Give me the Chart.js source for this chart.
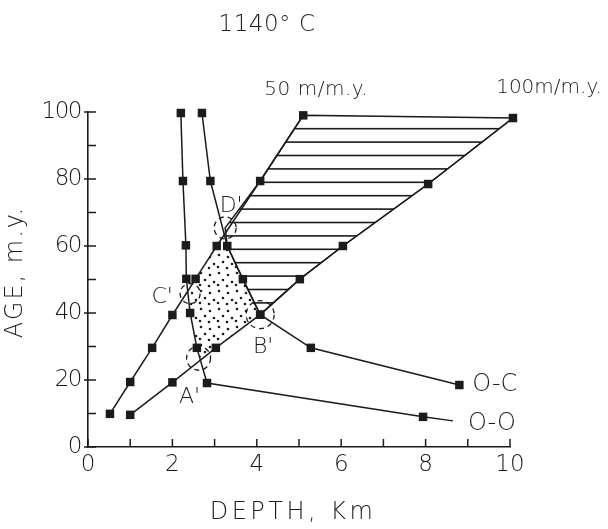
<!DOCTYPE html>
<html><head><meta charset="utf-8">
<script src="https://cdn.jsdelivr.net/npm/chart.js@4.4.1/dist/chart.umd.min.js"></script>
<style>html,body{margin:0;padding:0;background:#fff;}</style>
</head><body>
<canvas id="c" width="608" height="529"></canvas>
<script>
// ---------- data ----------
const depthTickLabels = [0, 2, 4, 6, 8, 10];
const ageTickLabels = [0, 20, 40, 60, 80, 100];

// 50 m/m.y. burial line
const rate50Depth = [0.52, 1.0, 1.52, 2.0, 2.55, 3.05, 4.08, 5.1];
const rate50Age   = [9.9, 19.4, 29.6, 39.4, 50.2, 60.0, 79.4, 99.0];
// 100 m/m.y. burial line
const rate100Depth = [1.0, 2.0, 3.03, 4.08, 5.02, 6.04, 8.06, 10.07];
const rate100Age   = [9.6, 19.3, 29.6, 39.5, 50.1, 60.0, 78.5, 98.2];
// O-O curve (first entry: end of the line, no marker)
const ooDepth = [8.65, 7.94, 2.82, 2.58, 2.42, 2.33, 2.32, 2.25, 2.2];
const ooAge   = [7.8, 9.0, 19.1, 29.6, 40.0, 50.2, 60.2, 79.4, 99.7];
// O-C curve
const ocDepth = [8.8, 5.28, 4.08, 3.67, 3.3, 2.9, 2.7];
const ocAge   = [18.5, 29.6, 39.5, 50.1, 60.0, 79.4, 99.7];
// crossing points (dashed circles)
const crossNames = ["A'", "B'", "C'", "D'"];
const crossDepth = [2.62, 4.08, 2.42, 3.25];
const crossAge   = [26.5, 39.5, 45.8, 65.4];

// ---------- helpers ----------
const pts = (xs, ys) => xs.map((x, i) => ({x, y: ys[i]}));
const P50 = pts(rate50Depth, rate50Age);
const P100 = pts(rate100Depth, rate100Age);
const POO = pts(ooDepth, ooAge);
const POC = pts(ocDepth, ocAge);
const PX = pts(crossDepth, crossAge);

// hatched field: between 50 and 100 m/m.y. lines, right of O-C
const hatchRegion = [P50[7], P100[7], P100[6], P100[5], P100[4], P100[3], POC[3], POC[4], PX[3], P50[6]];
// dotted field
const dotRegion = [PX[0], P100[2], P100[3], POC[3], POC[4], P50[5], P50[4], PX[2], POO[4], POO[3]];

const INK = '#1b1b1b';
const FONT = "'DejaVu Sans', sans-serif";
const W = 200;

function makeHatch(ctx) {
  const c = document.createElement('canvas'); c.width = 8; c.height = 67;
  const g = c.getContext('2d'); g.fillStyle = INK;
  for (let k = 0; k < 5; k++) { const y = 8.1 + k * 13.4; g.fillRect(0, y - 0.8, 8, 1.6); }
  return ctx.createPattern(c, 'repeat');
}
function makeDots(ctx) {
  const c = document.createElement('canvas'); c.width = 18; c.height = 18;
  const g = c.getContext('2d'); g.fillStyle = INK;
  [[3,3],[12,5],[7,10],[16,12],[2,15],[11,16]].forEach(([x,y]) => { g.beginPath(); g.arc(x, y, 1.3, 0, Math.PI*2); g.fill(); });
  return ctx.createPattern(c, 'repeat');
}

const regionsPlugin = {
  id: 'regions',
  beforeDatasetsDraw(chart) {
    const {ctx, scales: {x, y}} = chart;
    const path = (reg) => {
      ctx.beginPath();
      reg.forEach((p, i) => {
        const px = x.getPixelForValue(p.x), py = y.getPixelForValue(p.y);
        i ? ctx.lineTo(px, py) : ctx.moveTo(px, py);
      });
      ctx.closePath();
    };
    ctx.save();
    path(hatchRegion); ctx.fillStyle = makeHatch(ctx); ctx.fill();
    ctx.strokeStyle = INK; ctx.lineWidth = 1.5; ctx.stroke();
    path(dotRegion); ctx.fillStyle = makeDots(ctx); ctx.fill();
    ctx.restore();
  }
};

const ls = (ctx, v) => { if ('letterSpacing' in ctx) ctx.letterSpacing = v; };

const axesPlugin = {
  id: 'axesDeco',
  afterDraw(chart) {
    const {ctx, chartArea: a, scales: {x, y}} = chart;
    ctx.save();
    ctx.strokeStyle = INK; ctx.lineWidth = 1.5; ctx.fillStyle = INK;
    // tick marks (inward)
    x.ticks.forEach(t => {
      const px = x.getPixelForValue(t.value);
      ctx.beginPath(); ctx.moveTo(px, a.bottom); ctx.lineTo(px, a.bottom - 8); ctx.stroke();
    });
    y.ticks.forEach(t => {
      const py = y.getPixelForValue(t.value);
      const major = ageTickLabels.includes(t.value);
      ctx.beginPath(); ctx.moveTo(a.left - (major ? 4 : 0), py); ctx.lineTo(a.left + 8, py); ctx.stroke();
    });
    // tick labels
    ctx.font = `${W} 23px ${FONT}`;
    ctx.textAlign = 'center'; ctx.textBaseline = 'middle';
    depthTickLabels.forEach(v => ctx.fillText(String(v), x.getPixelForValue(v), a.bottom + 18));
    ctx.textAlign = 'right';
    ls(ctx, '-1.5px');
    ageTickLabels.forEach(v => ctx.fillText(String(v), a.left - 7, y.getPixelForValue(v)));
    // axis titles
    ctx.font = `${W} 24px ${FONT}`;
    ctx.textAlign = 'center';
    ls(ctx, '3.5px');
    ctx.fillText('DEPTH, Km', 293, 513);
    ls(ctx, '2px');
    ctx.save(); ctx.translate(16, 272); ctx.rotate(-Math.PI/2);
    ctx.fillText('AGE, m.y.', 0, 0); ctx.restore();
    ls(ctx, '0.5px');
    ctx.font = `${W} 23px ${FONT}`;
    ctx.fillText('1140° C', 267, 25);
    // rate labels
    ctx.font = `${W} 20px ${FONT}`;
    const p50 = P50[P50.length - 1], p100 = P100[P100.length - 1];
    ls(ctx, '0.5px');
    ctx.fillText('50 m/m.y.', x.getPixelForValue(p50.x) + 13, y.getPixelForValue(p50.y) - 26);
    ls(ctx, '0px');
    ctx.fillText('100m/m.y.', x.getPixelForValue(p100.x) + 36, y.getPixelForValue(p100.y) - 30);
    // curve labels
    ctx.font = `${W} 24px ${FONT}`;
    ctx.textAlign = 'left';
    ls(ctx, '0px');
    ctx.fillText('O-C', x.getPixelForValue(POC[0].x) + 13, y.getPixelForValue(POC[0].y));
    ctx.fillText('O-O', x.getPixelForValue(POO[0].x) + 15, y.getPixelForValue(POO[0].y) + 3);
    // dashed circles + letters
    const radii = [12, 14, 10, 11];
    const offs = [[-9, 39], [3, 33], [-28, 4], [6, -22]];
    ctx.setLineDash([5, 4]); ctx.lineWidth = 1.3;
    PX.forEach((p, i) => {
      const px = x.getPixelForValue(p.x), py = y.getPixelForValue(p.y);
      ctx.beginPath(); ctx.arc(px, py, radii[i], 0, Math.PI * 2); ctx.stroke();
    });
    ctx.setLineDash([]);
    ctx.font = `${W} 22px ${FONT}`; ctx.textAlign = 'center';
    PX.forEach((p, i) => {
      const px = x.getPixelForValue(p.x), py = y.getPixelForValue(p.y);
      ctx.fillText(crossNames[i], px + offs[i][0], py + offs[i][1]);
    });
    ctx.restore();
  }
};

const lineDs = (data, radii) => ({
  type: 'line', data, showLine: true, fill: false, tension: 0, clip: false,
  borderColor: INK, borderWidth: 1.5, backgroundColor: INK,
  pointStyle: 'rect', pointRadius: radii || 6, pointBorderWidth: 0, pointBackgroundColor: INK
});

new Chart(document.getElementById('c'), {
  type: 'line',
  data: {
    datasets: [
      lineDs(P50), lineDs(P100),
      lineDs(POO, POO.map((_, i) => i === 0 ? 0 : 6)),
      lineDs(POC)
    ]
  },
  options: {
    responsive: false, animation: false, devicePixelRatio: 1,
    layout: {padding: {left: 88, right: 98, top: 112, bottom: 82}},
    plugins: {legend: {display: false}, title: {display: false}, tooltip: {enabled: false}},
    scales: {
      x: {type: 'linear', min: 0, max: 10, grid: {display: false},
          border: {display: true, color: INK, width: 1.6},
          ticks: {display: false, stepSize: 1}, afterFit(s) { s.height = 0; }},
      y: {type: 'linear', min: 0, max: 100, grid: {display: false},
          border: {display: true, color: INK, width: 1.6},
          ticks: {display: false, stepSize: 10}, afterFit(s) { s.width = 0; }}
    }
  },
  plugins: [regionsPlugin, axesPlugin]
});
</script>
</body></html>
